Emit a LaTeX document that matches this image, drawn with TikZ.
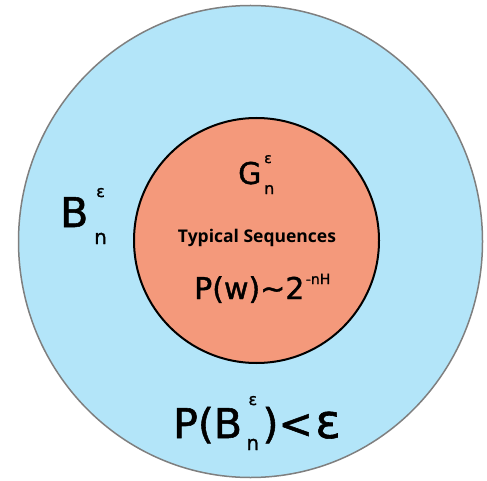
\documentclass[tikz,border=0pt]{standalone}
\usepackage{fontspec}
\setmainfont{DejaVu Sans}[FakeBold=1.3]
\newfontfamily\tagfont{Open Sans}
\usetikzlibrary{positioning}
\definecolor{Outer}{HTML}{B3E5F9}
\definecolor{Inner}{HTML}{F4997B}
\definecolor{Rim}{HTML}{7F7F7F}
\tikzset{
    txt/.style={anchor=base west, inner sep=0pt, text=black},
    huge/.style={txt, font=\fontsize{41}{41}\selectfont},
    large/.style={txt, font=\fontsize{30}{30}\selectfont},
    mid/.style={txt, font=\fontsize{20}{20}\selectfont},
    small/.style={txt, font=\fontsize{16}{16}\selectfont},
    tiny/.style={txt, font=\fontsize{14}{14}\selectfont},
}

\begin{document}
\begin{tikzpicture}[x=1pt, y=-1pt]
    \useasboundingbox (0,0) rectangle (487,481);

    % --- Sets ---
    \draw[Rim, line width=1.5pt, fill=Outer] (250.5,241.5) ellipse [x radius=232, y radius=236];
    \draw[black, line width=2pt, fill=Inner] (256.5,240.5) circle [radius=122.5];

    % --- Atypical set ---
    \node[huge] (bset) at (60,227) {B};
    \node[small] (bsup) at (96,197) {ε};
    \node[mid]   (bsub) at (94,244) {n};

    % --- Typical set ---
    \node[large] (gset) at (238,184) {G};
    \node[tiny] (gsup) at (264,163) {ε};
    \node[small] (gsub) at (264,194) {n};

    \node[anchor=base, inner sep=0pt, font=\tagfont\bfseries\fontsize{17.5}{17.5}\selectfont] (typ) at (257,242) {Typical Sequences};

    \node[large] (pw) at (194,299) {P(w)\textasciitilde 2};
    \node[tiny] (pwexp) at ([xshift=1pt, yshift=15pt]pw.base east) {-nH};

    % --- Probability bound ---
    \node[huge] (pb) at (173,438) {P(B};
    \node[small] (pbsup) at ([xshift=6pt, yshift=33pt]pb.base east) {ε};
    \node[mid]   (pbsub) at ([xshift=4pt, yshift=-12pt]pb.base east) {n};
    \node[huge] (pbend) at ([xshift=3pt]pbsub.east |- pb.base) {)<};
    \node[txt, font=\fontsize{47}{47}\selectfont] (pbeps) at ([xshift=2pt]pbend.base east) {ε};
\end{tikzpicture}
\end{document}
